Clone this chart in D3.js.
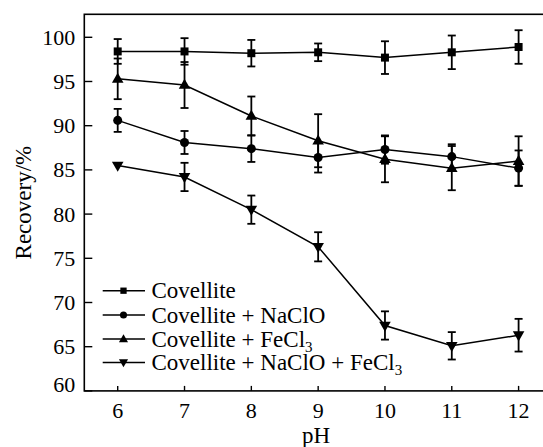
<!DOCTYPE html>
<html><head><meta charset="utf-8"><script src="https://cdn.jsdelivr.net/npm/d3@7"></script></head>
<body style="margin:0">
<svg id="s" width="543" height="447"></svg>
<script>
// ---- data ----
const pH = [6, 7, 8, 9, 10, 11, 12];
const covellite        = [98.4, 98.4, 98.2, 98.3, 97.7, 98.3, 98.9];
const covelliteErr     = [1.4, 1.5, 1.5, 1.0, 1.85, 1.9, 1.9];
const naclo            = [90.6, 88.1, 87.4, 86.4, 87.3, 86.5, 85.2];
const nacloErr         = [1.3, 1.3, 1.5, 1.7, 1.6, 1.4, 2.0];
const fecl3            = [95.3, 94.6, 91.1, 88.3, 86.2, 85.2, 86.0];
const fecl3Err         = [2.3, 2.6, 2.2, 3.0, 2.6, 2.5, 2.8];
const naclofecl3       = [85.5, 84.2, 80.5, 76.3, 67.4, 65.1, 66.3];
const naclofecl3Err    = [0, 1.6, 1.6, 1.65, 1.6, 1.55, 1.85];
const yTicks = [60, 65, 70, 75, 80, 85, 90, 95, 100];
const xTicks = [6, 7, 8, 9, 10, 11, 12];
const seriesNames = ["Covellite", "Covellite + NaClO", "Covellite + FeCl", "Covellite + NaClO + FeCl"];
const seriesSub = ["", "", "3", "3"];

const series = [
  { name: 0, values: covellite, err: covelliteErr, sym: "square" },
  { name: 1, values: naclo, err: nacloErr, sym: "circle" },
  { name: 2, values: fecl3, err: fecl3Err, sym: "tri" },
  { name: 3, values: naclofecl3, err: naclofecl3Err, sym: "tridown" }
];

const svg = d3.select("#s");
const mLeft = 84.3, mTop = 14.3, mBottom = 390.9, mRight = 552;
const x = d3.scaleLinear().domain([5.5, 12.5]).range([mLeft, mRight]);
const y = d3.scaleLinear().domain([60, 102.6]).range([mBottom, mTop]);

function addText(parent, px) {
  return parent.append("text").style("font-family", `"Liberation Serif"`).style("font-size", px + "px");
}

// frame
svg.append("rect")
  .attr("x", mLeft).attr("y", mTop)
  .attr("width", mRight - mLeft).attr("height", mBottom - mTop)
  .attr("fill", "none").attr("stroke", "#000").attr("stroke-width", 1.6);

// ticks (scale-driven)
const yAxis = svg.append("g");
yTicks.forEach(t => {
  yAxis.append("line").attr("x1", mLeft).attr("x2", mLeft + 8).attr("y1", y(t)).attr("y2", y(t))
    .attr("stroke", "#000").attr("stroke-width", 1.4);
  addText(yAxis, 22).attr("x", mLeft - 9).attr("y", y(t) + (t === 60 ? 1 : 7.5))
    .attr("text-anchor", "end").text(t);
});
const xAxis = svg.append("g");
xTicks.forEach(t => {
  xAxis.append("line").attr("x1", x(t)).attr("x2", x(t)).attr("y1", mBottom).attr("y2", mBottom - 5)
    .attr("stroke", "#000").attr("stroke-width", 1.4);
  addText(xAxis, 22).attr("x", x(t)).attr("y", 417.5).attr("text-anchor", "middle").text(t);
});

// axis titles
addText(svg, 23).attr("x", 316).attr("y", 442.5).attr("text-anchor", "middle").text("pH");
addText(svg, 23)
  .attr("transform", `translate(31,${(mTop + mBottom) / 2}) rotate(-90)`)
  .attr("text-anchor", "middle")
  .text("Recovery/%");

// symbols
function symPath(sym, scale) {
  const s = scale || 1;
  if (sym === "square") return d3.symbol(d3.symbolSquare, 64 * s)();
  if (sym === "circle") return d3.symbol(d3.symbolCircle, 64 * s)();
  return d3.symbol(d3.symbolTriangle, 58 * s)();
}
function symTransform(sym, cx, cy) {
  if (sym === "tri") return `translate(${cx},${cy + 0.5})`;
  if (sym === "tridown") return `translate(${cx},${cy - 0.5}) rotate(180)`;
  return `translate(${cx},${cy})`;
}

const line = d3.line().x((d, i) => x(pH[i])).y(d => y(d));
const plot = svg.append("g");

series.forEach(s => {
  plot.append("path")
    .attr("d", line(s.values))
    .attr("fill", "none").attr("stroke", "#000").attr("stroke-width", 1.5);
});

series.forEach(s => {
  s.values.forEach((v, i) => {
    const e = s.err[i];
    if (!e) return;
    const cx = x(pH[i]);
    const g = plot.append("g").attr("stroke", "#000").attr("stroke-width", 1.8);
    g.append("line").attr("x1", cx).attr("x2", cx).attr("y1", y(v - e)).attr("y2", y(v + e));
    g.append("line").attr("x1", cx - 4).attr("x2", cx + 4).attr("y1", y(v + e)).attr("y2", y(v + e));
    g.append("line").attr("x1", cx - 4).attr("x2", cx + 4).attr("y1", y(v - e)).attr("y2", y(v - e));
  });
});

series.forEach(s => {
  s.values.forEach((v, i) => {
    plot.append("path")
      .attr("d", symPath(s.sym))
      .attr("transform", symTransform(s.sym, x(pH[i]), y(v)))
      .attr("fill", "#000");
  });
});

// legend
const legend = svg.append("g");
const legY = [290.7, 315, 339, 362.5];
series.forEach((s, k) => {
  const ly = legY[k];
  legend.append("line")
    .attr("x1", 102.7).attr("x2", 145).attr("y1", ly).attr("y2", ly)
    .attr("stroke", "#000").attr("stroke-width", 1.5);
  legend.append("path")
    .attr("d", symPath(s.sym, 0.62))
    .attr("transform", symTransform(s.sym, 123.5, ly))
    .attr("fill", "#000");
  const t = addText(legend, 23).attr("x", 151.5).attr("y", ly + 7.5);
  t.append("tspan").text(seriesNames[s.name]);
  if (seriesSub[s.name]) {
    t.append("tspan").attr("dy", 5).style("font-size", "15px").text(seriesSub[s.name]);
  }
});
</script>
</body></html>
